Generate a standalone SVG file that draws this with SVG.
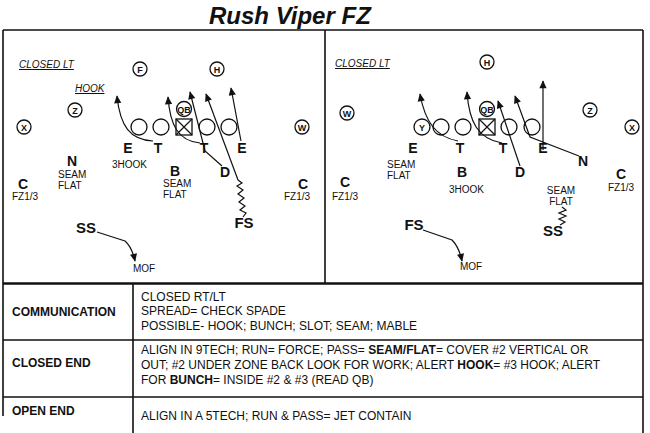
<svg xmlns="http://www.w3.org/2000/svg" width="650" height="433" viewBox="0 0 650 433">
<style>
text{font-family:"Liberation Sans",Arial,sans-serif;fill:#111}
.title{font-size:24px;font-weight:bold;font-style:italic}
.lbl{font-size:14px;font-weight:bold;text-anchor:middle}
.big{font-size:15px;font-weight:bold;text-anchor:middle}
.sm{font-size:10px}
.call{font-size:10px;font-style:italic;text-decoration:underline}
.pl{font-size:9px;font-weight:bold;text-anchor:middle}
.th{font-size:12px;font-weight:bold}
.td{font-size:12px}
.frame{stroke:#111;stroke-width:1.6;fill:none}
.ol{fill:#fff;stroke:#111;stroke-width:1.3}
.route{fill:none;stroke:#111;stroke-width:1.2}
</style>
<defs>
<marker id="ah" viewBox="0 0 10 10" refX="9" refY="5" markerWidth="9" markerHeight="8" markerUnits="userSpaceOnUse" orient="auto">
<path d="M0,0.5 L10,5 L0,9.5 z" fill="#111"/>
</marker>
</defs>
<rect width="650" height="433" fill="#fff"/>
<text class="title" x="209" y="24">Rush Viper FZ</text>
<g id="frame">
<path class="frame" d="M3,30 H643 M3,30 V416 M643,30 V433 M325,30 V283 M133,283 V433 M3,340 H643 M3,397 H643"/>
<path d="M3,283.5 H643" stroke="#111" stroke-width="2.6"/>
</g>
<g id="left-play">
<text class="call" x="19" y="68">CLOSED LT</text>
<text class="call" x="75" y="92">HOOK</text>
<g id="L-F"><circle class="ol" cx="140" cy="69" r="7"/><text class="pl" x="140" y="72.5">F</text></g>
<g id="L-H"><circle class="ol" cx="217" cy="69" r="7"/><text class="pl" x="217" y="72.5">H</text></g>
<g id="L-Z"><circle class="ol" cx="75" cy="110" r="7"/><text class="pl" x="75" y="113.5">Z</text></g>
<g id="L-X"><circle class="ol" cx="24" cy="127" r="7"/><text class="pl" x="24" y="130.5">X</text></g>
<g id="L-W"><circle class="ol" cx="302" cy="127" r="7"/><text class="pl" x="302" y="130.5">W</text></g>
<g id="L-QB"><circle class="ol" cx="184" cy="109" r="7.5"/><text class="pl" x="184" y="112.5">QB</text></g>
<g id="L-OL">
<circle class="ol" cx="139" cy="127" r="8"/>
<circle class="ol" cx="161" cy="127" r="8"/>
<rect class="ol" x="176" y="119" width="16" height="16"/>
<path d="M176,119 L192,135 M192,119 L176,135" stroke="#111" stroke-width="1.2"/>
<circle class="ol" cx="207" cy="127" r="8"/>
<circle class="ol" cx="229" cy="127" r="8"/>
</g>
<g id="L-connectors">
<path class="route" d="M153,141 C130,140 120,126 117,96" marker-end="url(#ah)"/>
<path class="route" d="M200,143 C178,141 170,125 168,97" marker-end="url(#ah)"/>
<path class="route" d="M222,166 L205,151 L190,92" marker-end="url(#ah)"/>
<path class="route" d="M238,180 L206,94" marker-end="url(#ah)"/>
<path class="route" d="M241,141 L231,88" marker-end="url(#ah)"/>
<path class="route" d="M238,180 L242,183 L237,186 L243,190 L238,194 L244,198 L239,202 L245,206 L240,210 L246,213 L243,217"/>
<path class="route" d="M97,232 L125,241 Q132,247 135,261" marker-end="url(#ah)"/>
</g>
<text class="lbl" x="128" y="153">E</text>
<text class="lbl" x="158" y="153">T</text>
<text class="lbl" x="204" y="153">T</text>
<text class="lbl" x="242" y="153">E</text>
<text class="sm" x="112" y="168">3HOOK</text>
<text class="lbl" x="72" y="166">N</text>
<text class="sm" x="58" y="178">SEAM</text>
<text class="sm" x="58" y="189">FLAT</text>
<text class="lbl" x="175" y="176">B</text>
<text class="sm" x="163" y="187">SEAM</text>
<text class="sm" x="163" y="198">FLAT</text>
<text class="lbl" x="225" y="177">D</text>
<text class="lbl" x="23" y="189">C</text>
<text class="sm" x="12" y="200">FZ1/3</text>
<text class="lbl" x="303" y="189">C</text>
<text class="sm" x="284" y="200">FZ1/3</text>
<text class="big" x="244" y="228">FS</text>
<text class="big" x="86" y="233">SS</text>
<text class="sm" x="133" y="272">MOF</text>
</g>
<g id="right-play">
<text class="call" x="335" y="67">CLOSED LT</text>
<g id="R-H"><circle class="ol" cx="487" cy="62" r="7"/><text class="pl" x="487" y="65.5">H</text></g>
<g id="R-W"><circle class="ol" cx="347" cy="113" r="7"/><text class="pl" x="347" y="116.5">W</text></g>
<g id="R-Z"><circle class="ol" cx="590" cy="110" r="7"/><text class="pl" x="590" y="113.5">Z</text></g>
<g id="R-X"><circle class="ol" cx="632" cy="127" r="7"/><text class="pl" x="632" y="130.5">X</text></g>
<g id="R-QB"><circle class="ol" cx="487" cy="109" r="7.5"/><text class="pl" x="487" y="112.5">QB</text></g>
<g id="R-OL">
<circle class="ol" cx="422" cy="127" r="8"/><text class="pl" x="422" y="130.5">Y</text>
<circle class="ol" cx="441" cy="127" r="8"/>
<circle class="ol" cx="463" cy="127" r="8"/>
<rect class="ol" x="479" y="119" width="16" height="16"/>
<path d="M479,119 L495,135 M495,119 L479,135" stroke="#111" stroke-width="1.2"/>
<circle class="ol" cx="509" cy="127" r="8"/>
<circle class="ol" cx="532" cy="127" r="8"/>
</g>
<g id="R-connectors">
<path class="route" d="M458,141 C436,137 425,122 420,94" marker-end="url(#ah)"/>
<path class="route" d="M502,143 C478,139 469,122 467,92" marker-end="url(#ah)"/>
<path class="route" d="M520,166 L498,101" marker-end="url(#ah)"/>
<path class="route" d="M579,156 L530,137 L515,96" marker-end="url(#ah)"/>
<path class="route" d="M543,150 L543,81" marker-end="url(#ah)"/>
<path class="route" d="M562,207 L566,210 L559,213 L566,216 L559,219 L565,222 L560,225"/>
<path class="route" d="M423,230 L452,240 Q459,247 462,261" marker-end="url(#ah)"/>
</g>
<text class="lbl" x="413" y="153">E</text>
<text class="lbl" x="460" y="153">T</text>
<text class="lbl" x="503" y="153">T</text>
<text class="lbl" x="543" y="153">E</text>
<text class="lbl" x="583" y="166">N</text>
<text class="sm" x="387" y="168">SEAM</text>
<text class="sm" x="387" y="179">FLAT</text>
<text class="lbl" x="462" y="177">B</text>
<text class="lbl" x="520" y="177">D</text>
<text class="sm" x="449" y="193">3HOOK</text>
<text class="lbl" x="345" y="187">C</text>
<text class="sm" x="332" y="200">FZ1/3</text>
<text class="lbl" x="621" y="179">C</text>
<text class="sm" x="608" y="191">FZ1/3</text>
<text class="sm" x="561" y="194" text-anchor="middle">SEAM</text>
<text class="sm" x="561" y="205" text-anchor="middle">FLAT</text>
<text class="big" x="553" y="236">SS</text>
<text class="big" x="414" y="230">FS</text>
<text class="sm" x="460" y="270">MOF</text>
</g>
<g id="table">
<text class="th" x="12" y="316">COMMUNICATION</text>
<text class="td" x="141" y="301">CLOSED RT/LT</text>
<text class="td" x="141" y="315">SPREAD= CHECK SPADE</text>
<text class="td" x="141" y="330">POSSIBLE- HOOK; BUNCH; SLOT; SEAM; MABLE</text>
<text class="th" x="12" y="367">CLOSED END</text>
<text class="td" x="141" y="354">ALIGN IN 9TECH; RUN= FORCE; PASS= <tspan font-weight="bold">SEAM/FLAT</tspan>= COVER #2 VERTICAL OR</text>
<text class="td" x="141" y="369">OUT; #2 UNDER ZONE BACK LOOK FOR WORK; ALERT <tspan font-weight="bold">HOOK</tspan>= #3 HOOK; ALERT</text>
<text class="td" x="141" y="384">FOR <tspan font-weight="bold">BUNCH</tspan>= INSIDE #2 &amp; #3 (READ QB)</text>
<text class="th" x="12" y="415">OPEN END</text>
<text class="td" x="141" y="420">ALIGN IN A 5TECH; RUN &amp; PASS= JET CONTAIN</text>
</g>
</svg>
